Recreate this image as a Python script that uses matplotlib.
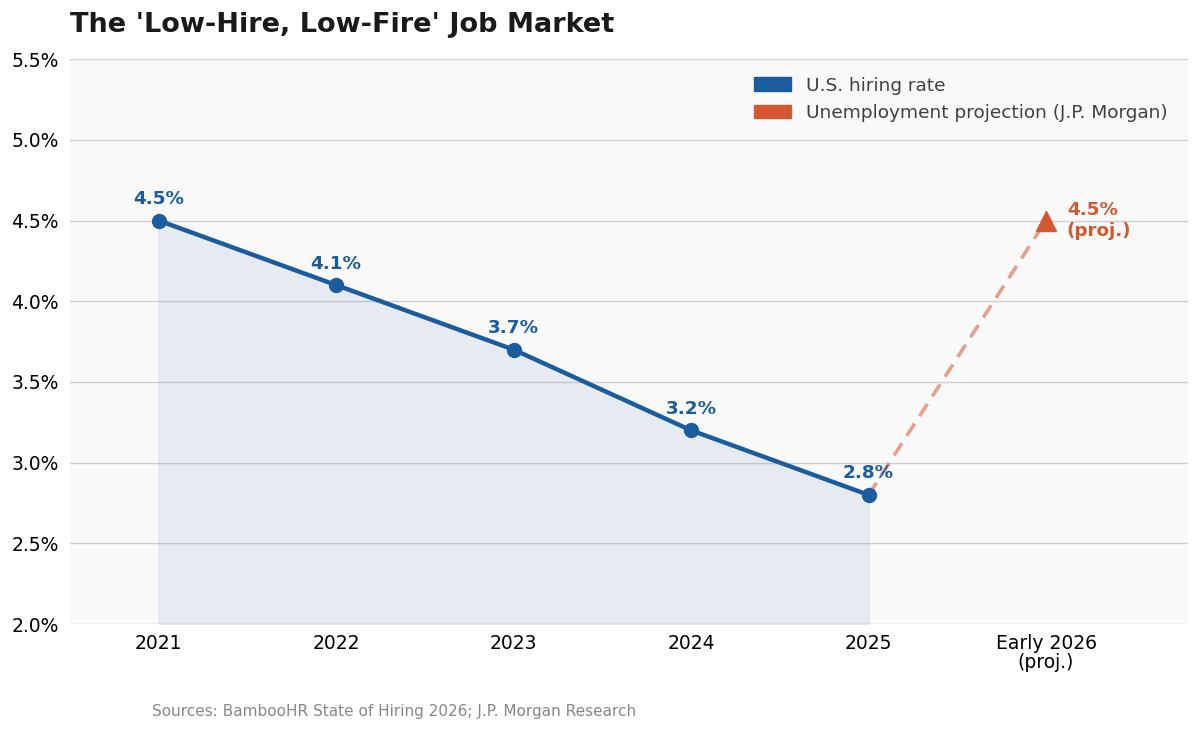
import matplotlib
matplotlib.use("Agg")
import matplotlib.pyplot as plt
from matplotlib.patches import Patch
from matplotlib.ticker import FuncFormatter

# data
categories = ["2021", "2022", "2023", "2024", "2025", "Early 2026\n(proj.)"]
hiring_rate = [4.5, 4.1, 3.7, 3.2, 2.8]
unemp_proj = 4.5

blue = "#1a5c9e"
orange = "#d4582f"

fig = plt.figure(figsize=(12, 7.3), dpi=100)
ax = fig.add_axes([0.0583, 0.1452, 0.9317, 0.7738])
ax.set_facecolor("#f9f9f9")

x = list(range(len(hiring_rate)))
ax.fill_between(x, 2.0, hiring_rate, facecolor="#4577bd", alpha=0.1,
                edgecolor="#4577bd", lw=1.0, zorder=1)
ax.plot(x, hiring_rate, color=blue, lw=3.2, marker="o", ms=10, zorder=3)

# projection
px = len(categories) - 1
ax.plot([x[-1], px], [hiring_rate[-1], unemp_proj], color=orange, lw=2.6,
        ls=(0, (4, 2.5)), alpha=0.55, zorder=2)
ax.plot([px], [unemp_proj], marker="^", color=orange, ms=15, ls="none", zorder=4)

for xi, v in zip(x, hiring_rate):
    ax.annotate(f"{v}%", (xi, v), xytext=(0, 9), textcoords="offset points",
                ha="center", va="bottom", fontsize=13.2, fontweight="bold", color=blue)
ax.annotate(f"{unemp_proj}%\n(proj.)", (px, unemp_proj), xytext=(15, 0),
            textcoords="offset points", ha="left", va="center",
            fontsize=13.2, fontweight="bold", color=orange, linespacing=1.15)

ax.set_xlim(-0.5, 5.8)
ax.set_ylim(2.0, 5.5)
ax.set_xticks(range(len(categories)))
ax.set_xticklabels(categories, fontsize=13.5, linespacing=1.05)
ax.set_yticks([2.0, 2.5, 3.0, 3.5, 4.0, 4.5, 5.0, 5.5])
ax.yaxis.set_major_formatter(FuncFormatter(lambda v, p: f"{v:.1f}%"))
ax.tick_params(axis="y", labelsize=13.5, length=0, pad=8)
ax.tick_params(axis="x", length=0, pad=7)
ax.grid(axis="y", color="#d0d0d0", lw=1.0, zorder=0)
ax.set_axisbelow(True)
for s in ax.spines.values():
    s.set_visible(False)

handles = [Patch(color=blue, label="U.S. hiring rate"),
           Patch(color=orange, label="Unemployment projection (J.P. Morgan)")]
leg = ax.legend(handles=handles, loc="upper right", fontsize=13.3, frameon=False,
                handlelength=2.0, handleheight=0.75, labelspacing=0.5,
                borderaxespad=0.55, bbox_to_anchor=(0.9975, 1.0))
for t in leg.get_texts():
    t.set_color("#404040")

fig.text(0.0583, 0.966, "The 'Low-Hire, Low-Fire' Job Market", fontsize=19.5,
         fontweight="bold", color="#1a1a1a", ha="left", va="center")
fig.text(0.127, 0.026, "Sources: BambooHR State of Hiring 2026; J.P. Morgan Research",
         fontsize=11, color="#888888", ha="left", va="center")

fig.savefig("out.png", dpi=100)
